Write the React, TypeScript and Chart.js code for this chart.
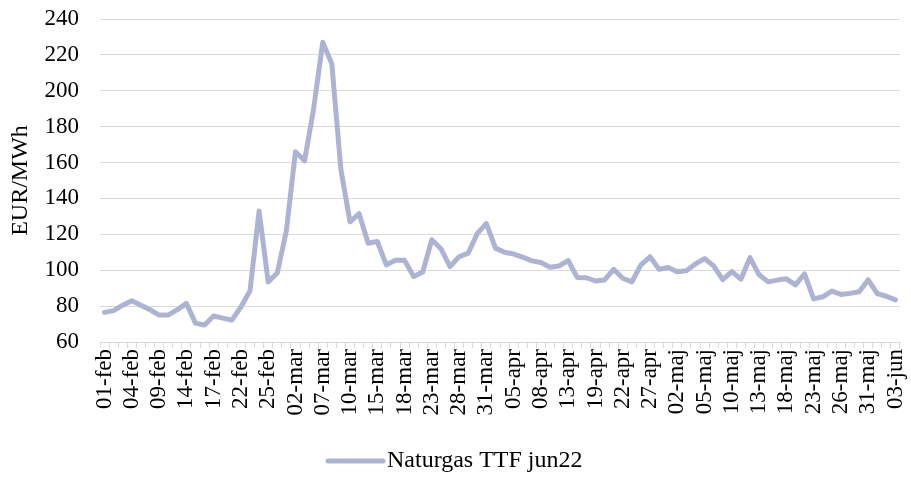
import React, { useEffect, useRef } from "react";
import { Chart, registerables } from "chart.js";

Chart.register(...registerables);

const categories: string[] = [
  "01-feb", "02-feb", "03-feb", "04-feb", "07-feb", "08-feb", "09-feb", "10-feb", "11-feb", "14-feb",
  "15-feb", "16-feb", "17-feb", "18-feb", "21-feb", "22-feb", "23-feb", "24-feb", "25-feb", "28-feb",
  "01-mar", "02-mar", "03-mar", "04-mar", "07-mar", "08-mar", "09-mar", "10-mar", "11-mar", "14-mar",
  "15-mar", "16-mar", "17-mar", "18-mar", "21-mar", "22-mar", "23-mar", "24-mar", "25-mar", "28-mar",
  "29-mar", "30-mar", "31-mar", "01-apr", "04-apr", "05-apr", "06-apr", "07-apr", "08-apr", "11-apr",
  "12-apr", "13-apr", "14-apr", "15-apr", "19-apr", "20-apr", "21-apr", "22-apr", "25-apr", "26-apr",
  "27-apr", "28-apr", "29-apr", "02-maj", "03-maj", "04-maj", "05-maj", "06-maj", "09-maj", "10-maj",
  "11-maj", "12-maj", "13-maj", "16-maj", "17-maj", "18-maj", "19-maj", "20-maj", "23-maj", "24-maj",
  "25-maj", "26-maj", "27-maj", "30-maj", "31-maj", "01-jun", "02-jun", "03-jun",
];

const ttfJun22: number[] = [
  76.5, 77.5, 80.5, 83, 80.5, 78, 75, 75, 78, 81.5,
  70.5, 69.5, 74.5, 73.3, 72.2, 79.5, 88.6, 133, 93.5, 98.5,
  122, 166, 161, 190, 227, 215, 156, 127, 131.5, 115,
  116, 103, 105.5, 105.5, 96.5, 99, 117, 112, 102, 107.5,
  109.5, 120.5, 126, 112.3, 110, 109, 107.3, 105.2, 104.3, 101.7,
  102.4, 105.4, 96, 95.8, 94, 94.6, 100.5, 95.5, 93.5, 103,
  107.5, 100.5, 101.5, 99.2, 99.7, 103.5, 106.5, 102.4, 94.8, 99.2,
  95, 107, 97.5, 93.5, 94.5, 95.2, 91.8, 98, 84, 85.2,
  88.4, 86.5, 87.1, 88, 94.6, 87, 85.5, 83.5,
];

const seriesName = "Naturgas TTF jun22";
const yTitle = "EUR/MWh";
const yMin = 60;
const yMax = 240;
const yStep = 20;
const labelEvery = 3;

const FONT = "'Liberation Serif', 'Times New Roman', serif";
const LINE_COLOR = "#adb4d3";

const bottomLegend = {
  id: "bottomLegend",
  afterDraw(chart: any) {
    const ctx = chart.ctx;
    const ds = chart.data.datasets[0];
    const y = 461;
    const x0 = 328;
    const x1 = 383;
    ctx.save();
    ctx.strokeStyle = ds.borderColor;
    ctx.lineWidth = 5;
    ctx.lineCap = "round";
    ctx.beginPath();
    ctx.moveTo(x0, y);
    ctx.lineTo(x1, y);
    ctx.stroke();
    ctx.fillStyle = "#000";
    ctx.font = `24px ${FONT}`;
    ctx.textBaseline = "middle";
    ctx.textAlign = "left";
    ctx.fillText(ds.label, x1 + 4, y);
    ctx.restore();
  },
};

export default function App() {
  const ref = useRef<HTMLCanvasElement | null>(null);

  useEffect(() => {
    if (!ref.current) return;
    const chart = new Chart(ref.current, {
      type: "line",
      data: {
        labels: categories,
        datasets: [
          {
            label: seriesName,
            data: ttfJun22,
            borderColor: LINE_COLOR,
            backgroundColor: LINE_COLOR,
            borderWidth: 5,
            borderCapStyle: "round",
            borderJoinStyle: "round",
            pointRadius: 0,
            tension: 0,
          },
        ],
      },
      options: {
        animation: false,
        responsive: true,
        maintainAspectRatio: false,
        layout: { padding: { top: 19, right: 11, bottom: 32, left: 0 } },
        plugins: {
          tooltip: { enabled: false },
          legend: { display: false },
        },
        scales: {
          x: {
            offset: true,
            grid: {
              offset: true,
              drawOnChartArea: false,
              drawTicks: true,
              tickLength: 6,
              color: "#d9d9d9",
            },
            border: { display: true, color: "#d9d9d9", width: 1 },
            ticks: {
              autoSkip: false,
              minRotation: 90,
              maxRotation: 90,
              padding: 1,
              color: "#000",
              font: { family: FONT, size: 23 },
              callback: (_v: any, i: number) => (i % labelEvery === 0 ? categories[i] : ""),
            },
            afterFit: (s: any) => {
              s.height = 103;
              s.paddingLeft = 0;
              s.paddingRight = 0;
            },
          },
          y: {
            min: yMin,
            max: yMax,
            grid: { color: "#d9d9d9", lineWidth: 1, drawTicks: false },
            border: { display: false },
            ticks: {
              stepSize: yStep,
              padding: 21,
              color: "#000",
              font: { family: FONT, size: 23 },
            },
            title: {
              display: true,
              text: yTitle,
              color: "#000",
              font: { family: FONT, size: 24 },
              padding: { top: 6, bottom: 0 },
            },
            afterFit: (s: any) => {
              s.width = 100;
              s.paddingTop = 0;
              s.paddingBottom = 0;
            },
          },
        },
      },
      plugins: [bottomLegend],
    });
    return () => chart.destroy();
  }, []);

  return (
    <div style={{ position: "absolute", left: 0, top: 0, width: 911, height: 477 }}>
      <canvas ref={ref} />
    </div>
  );
}
